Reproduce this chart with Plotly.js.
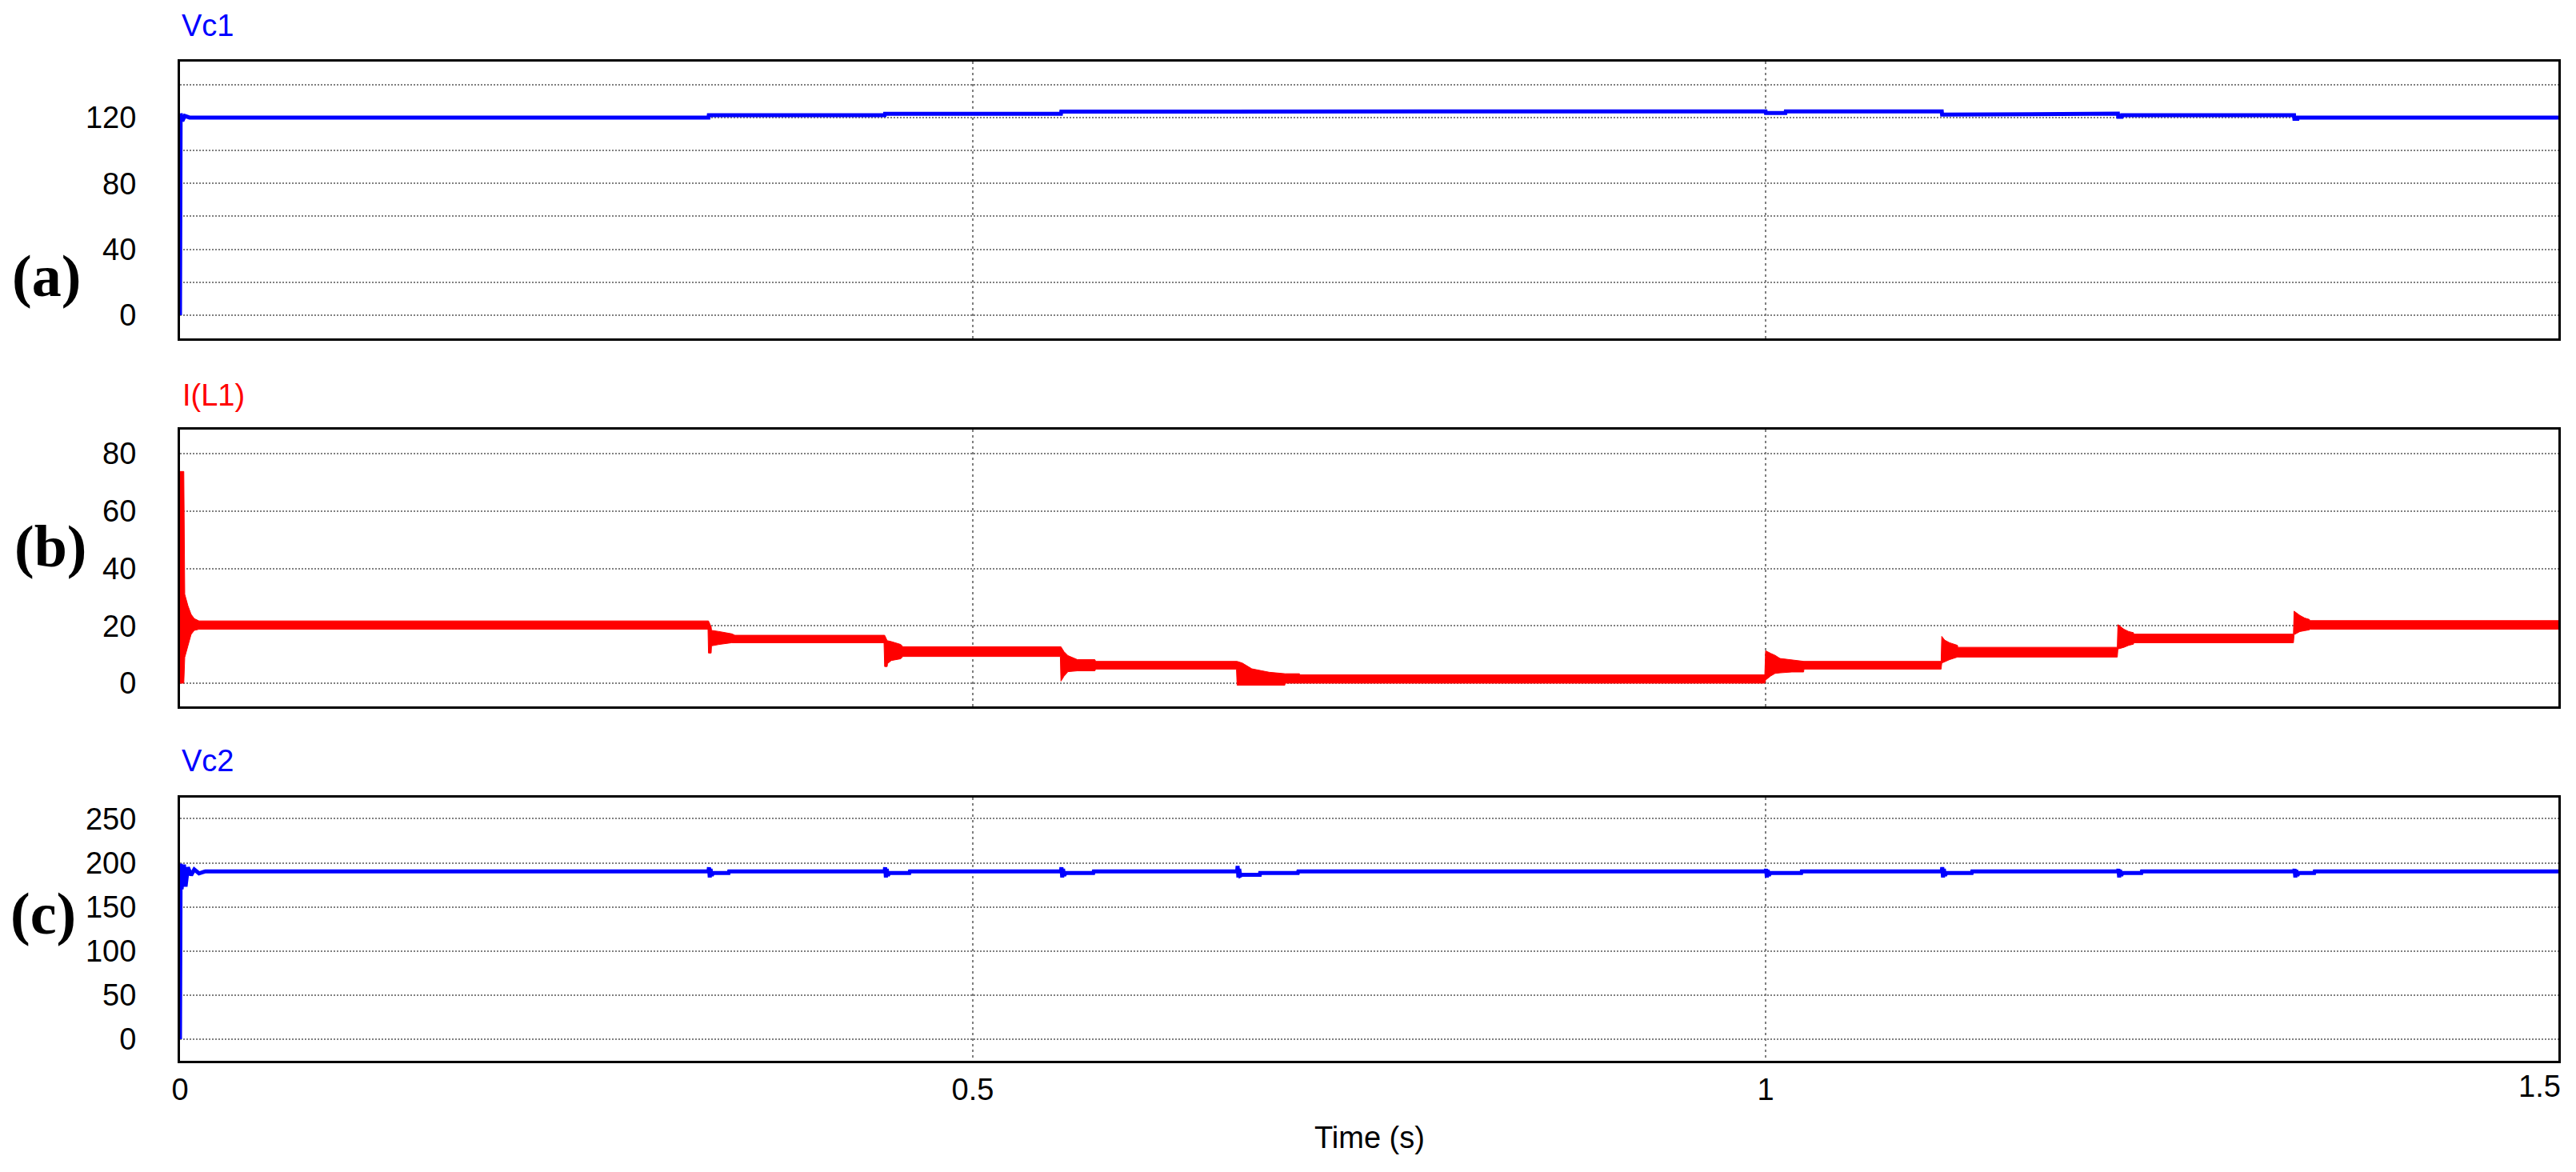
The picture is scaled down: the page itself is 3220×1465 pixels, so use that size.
<!DOCTYPE html>
<html>
<head>
<meta charset="utf-8">
<script src="https://cdn.plot.ly/plotly-3.0.1.min.js"></script>
<style>html,body{margin:0;padding:0;background:#fff;}#chart{width:3220px;height:1465px;}</style>
</head>
<body>
<div id="chart"></div>
<script>
// ---------------- DATA ----------------
// Panel (a): Vc1 (V)
const vc1Time = [0, 0.0004, 0.0015, 0.003, 0.006, 0.3333, 0.3335, 0.4444, 0.4446, 0.5556, 0.5558, 0.6667, 0.6669,
  1.0, 1.0002, 1.0125, 1.0127, 1.1111, 1.1113, 1.1165, 1.1167, 1.2222, 1.2224, 1.2245, 1.2247, 1.3333, 1.3335, 1.3355, 1.3357, 1.5];
const vc1Vals = [0, 122.5, 118, 121, 120, 120, 121.4, 121.4, 122.3, 122.3, 123.6, 123.6, 123.8,
  123.8, 122.8, 122.8, 123.7, 123.7, 121.8, 121.8, 122.4, 122.4, 120.5, 120.5, 121.4, 121.4, 119.3, 119.3, 120, 120];

// Panel (b): I(L1) (A) — ripple band, upper and lower envelope
const iL1Time = [0, 0.0024, 0.003, 0.005, 0.007, 0.009, 0.012,
  0.3330, 0.3333, 0.3350, 0.3352, 0.3400, 0.3480, 0.3500,
  0.4440, 0.4444, 0.4460, 0.4462, 0.4486, 0.4545, 0.4560,
  0.5552, 0.5556, 0.5575, 0.5600, 0.5660, 0.5770, 0.5775,
  0.6663, 0.6667, 0.6700, 0.6760, 0.6870, 0.6968, 0.6970, 0.7060, 0.7062,
  0.9995, 1.0000, 1.0032, 1.0060, 1.0091, 1.0166, 1.0240, 1.0242,
  1.1107, 1.1111, 1.1130, 1.1160, 1.1210, 1.1212,
  1.2218, 1.2222, 1.2260, 1.2290, 1.2320, 1.2322,
  1.3329, 1.3333, 1.3370, 1.3400, 1.3430, 1.3432, 1.5];
const iL1Upper = [73.8, 73.8, 31, 27, 24, 22.5, 21.7,
  21.7, 21.7, 19.6, 18.4, 18.0, 17.2, 16.7,
  16.7, 16.7, 14.8, 14.8, 14.5, 13.5, 12.7,
  12.7, 12.7, 11.0, 9.6, 8.2, 8.2, 7.6,
  7.6, 7.6, 7.0, 5.0, 3.8, 3.3, 3.3, 3.3, 2.9,
  2.9, 11.3, 10.4, 9.7, 8.6, 8.2, 7.8, 7.6,
  7.6, 16.3, 15.0, 14.1, 13.2, 12.5,
  12.5, 20.4, 18.8, 18.0, 17.6, 17.1,
  17.1, 25.1, 23.6, 22.7, 22.2, 21.8, 21.8];
const iL1Lower = [0, 0, 9, 13, 17, 18.4, 18.8,
  18.8, 10.5, 10.5, 13.0, 13.5, 14.1, 14.1,
  14.1, 5.8, 5.8, 6.8, 7.9, 8.5, 9.3,
  9.3, 0.7, 2.4, 4.0, 4.3, 4.3, 4.9,
  4.9, -0.7, -0.7, -0.7, -0.7, -0.7, 0.0, 0.0, 0.0,
  0.0, 1.1, 2.5, 3.4, 3.6, 3.9, 3.9, 4.9,
  4.9, 7.0, 7.5, 8.2, 9.1, 9.1,
  9.1, 11.9, 12.5, 13.2, 13.6, 14.1,
  14.1, 16.9, 18.0, 18.3, 18.6, 18.8, 18.8];

// Panel (c): Vc2 (V)
const vc2Time = [0, 0.0004, 0.001, 0.0025, 0.0035, 0.005, 0.007, 0.009, 0.012, 0.016,
  0.3333, 0.3336, 0.3341, 0.3346, 0.3353, 0.3363, 0.346, 0.3463,
  0.4444, 0.4447, 0.4452, 0.4457, 0.4464, 0.4474, 0.460, 0.4603,
  0.5556, 0.5559, 0.5564, 0.5569, 0.5576, 0.5586, 0.576, 0.5763,
  0.6667, 0.6670, 0.6675, 0.6680, 0.6687, 0.6697, 0.681, 0.6812, 0.705, 0.7053,
  1.0, 1.0003, 1.0008, 1.0013, 1.002, 1.003, 1.0225, 1.0228,
  1.1111, 1.1114, 1.1119, 1.1124, 1.1131, 1.1141, 1.130, 1.1303,
  1.2222, 1.2225, 1.2230, 1.2235, 1.2242, 1.2252, 1.237, 1.2373,
  1.3333, 1.3336, 1.3341, 1.3346, 1.3353, 1.3363, 1.346, 1.3463,
  1.5];
const vc2Vals = [0, 199, 170, 198, 173, 195, 186, 192.5, 188, 190.4,
  190.4, 195, 183.5, 193, 185.5, 188.5, 188.5, 190.4,
  190.4, 195, 183.5, 193, 185.5, 188.5, 188.5, 190.4,
  190.4, 195, 183.5, 193, 185.5, 188.5, 188.5, 190.4,
  190.4, 196.5, 183.5, 193, 185.5, 186.5, 186.5, 188.5, 188.5, 190.4,
  190.4, 193, 183.5, 192, 185.5, 188.5, 188.5, 190.4,
  190.4, 195, 183.5, 193, 185.5, 188.5, 188.5, 190.4,
  190.4, 193, 183.5, 192, 185.5, 188.5, 188.5, 190.4,
  190.4, 193, 183.5, 192, 185.5, 188.5, 188.5, 190.4,
  190.4];

// Axis ticks
const timeTicks = [0, 0.5, 1, 1.5];
const timeTickText = ['0', '0.5', '1', ''];   // '1.5' is drawn inside the page edge, see annotations
const lastTimeLabel = '1.5';
const vc1Ticks = [0, 20, 40, 60, 80, 100, 120, 140];
const vc1TickText = ['0', '', '40', '', '80', '', '120', ''];
const iL1Ticks = [0, 20, 40, 60, 80];
const iL1TickText = ['0', '20', '40', '60', '80'];
const vc2Ticks = [0, 50, 100, 150, 200, 250];
const vc2TickText = ['0', '50', '100', '150', '200', '250'];

const panelNames = ['Vc1', 'I(L1)', 'Vc2'];
const panelLetters = ['(a)', '(b)', '(c)'];

// ---------------- LAYOUT HELPERS ----------------
const W = 3220, H = 1465, L = 225, R = 22;
const yp = py => 1 - py / H;
const xp = px => (px - L) / (W - L - R);

const font = 'Arial, "Liberation Sans", sans-serif';
const serif = '"Liberation Serif", "Times New Roman", serif';
const tickFont = {family: font, size: 38, color: '#000'};

function xAxis(showLabels) {
  return {
    range: [0, 1.5], tickvals: timeTicks, ticktext: timeTickText,
    showticklabels: showLabels, ticks: '', tickfont: tickFont, ticklabelstandoff: 0,
    showgrid: true, gridcolor: '#808080', gridwidth: 1.5, griddash: '3px,4px',
    zeroline: false, showline: true, mirror: true, linecolor: '#000', linewidth: 3
  };
}
function yAxis(dom, range, tv, tt) {
  return {
    domain: dom, range: range, tickvals: tv, ticktext: tt,
    ticks: '', tickfont: tickFont, ticklabelstandoff: 44,
    showgrid: true, gridcolor: '#808080', gridwidth: 2, griddash: '2px,2px',
    zeroline: false, showline: true, mirror: true, linecolor: '#000', linewidth: 3
  };
}

// polygon for the I(L1) ripple band
const bandX = iL1Time.concat(iL1Time.slice().reverse());
const bandY = iL1Upper.concat(iL1Lower.slice().reverse());

const traces = [
  {x: vc1Time, y: vc1Vals, xaxis: 'x', yaxis: 'y', mode: 'lines', name: panelNames[0],
   line: {color: '#0000FF', width: 5}},
  {x: bandX, y: bandY, xaxis: 'x2', yaxis: 'y2', mode: 'lines', name: panelNames[1],
   fill: 'toself', fillcolor: '#FF0000', line: {color: '#FF0000', width: 1}},
  {x: vc2Time, y: vc2Vals, xaxis: 'x3', yaxis: 'y3', mode: 'lines', name: panelNames[2],
   line: {color: '#0000FF', width: 5}}
];

const xa = xAxis(false); xa.anchor = 'y';
const xb = xAxis(false); xb.anchor = 'y2';
const xc = xAxis(true); xc.anchor = 'y3';

const layout = {
  width: W, height: H,
  margin: {l: L, r: R, t: 0, b: 0},
  paper_bgcolor: '#fff', plot_bgcolor: '#fff',
  showlegend: false,
  xaxis: xa, xaxis2: xb, xaxis3: xc,
  yaxis: yAxis([yp(423), yp(77)], [-14.1, 154], vc1Ticks, vc1TickText),
  yaxis2: yAxis([yp(883), yp(537)], [-8.1, 88.4], iL1Ticks, iL1TickText),
  yaxis3: yAxis([yp(1326), yp(997)], [-24.5, 274], vc2Ticks, vc2TickText),
  annotations: [
    {text: panelNames[0], xref: 'paper', yref: 'paper', x: xp(225), y: yp(32), xanchor: 'left', yanchor: 'middle',
     showarrow: false, font: {family: font, size: 38, color: '#0000FF'}},
    {text: panelNames[1], xref: 'paper', yref: 'paper', x: xp(226), y: yp(494), xanchor: 'left', yanchor: 'middle',
     showarrow: false, font: {family: font, size: 38, color: '#FF0000'}},
    {text: panelNames[2], xref: 'paper', yref: 'paper', x: xp(225), y: yp(951), xanchor: 'left', yanchor: 'middle',
     showarrow: false, font: {family: font, size: 38, color: '#0000FF'}},
    {text: '<b>' + panelLetters[0] + '</b>', xref: 'paper', yref: 'paper', x: xp(13), y: yp(345), xanchor: 'left', yanchor: 'middle',
     showarrow: false, font: {family: serif, size: 74, color: '#000'}},
    {text: '<b>' + panelLetters[1] + '</b>', xref: 'paper', yref: 'paper', x: xp(16), y: yp(683), xanchor: 'left', yanchor: 'middle',
     showarrow: false, font: {family: serif, size: 74, color: '#000'}},
    {text: '<b>' + panelLetters[2] + '</b>', xref: 'paper', yref: 'paper', x: xp(11), y: yp(1142), xanchor: 'left', yanchor: 'middle',
     showarrow: false, font: {family: serif, size: 74, color: '#000'}},
    {text: lastTimeLabel, xref: 'paper', yref: 'paper', x: xp(3203), y: yp(1358), xanchor: 'right', yanchor: 'middle',
     showarrow: false, font: tickFont},
    {text: 'Time (s)', xref: 'x3', yref: 'paper', x: 0.75, y: yp(1422), xanchor: 'center', yanchor: 'middle',
     showarrow: false, font: {family: font, size: 38, color: '#000'}}
  ]
};

Plotly.newPlot('chart', traces, layout, {displayModeBar: false, staticPlot: true});
</script>
</body>
</html>
